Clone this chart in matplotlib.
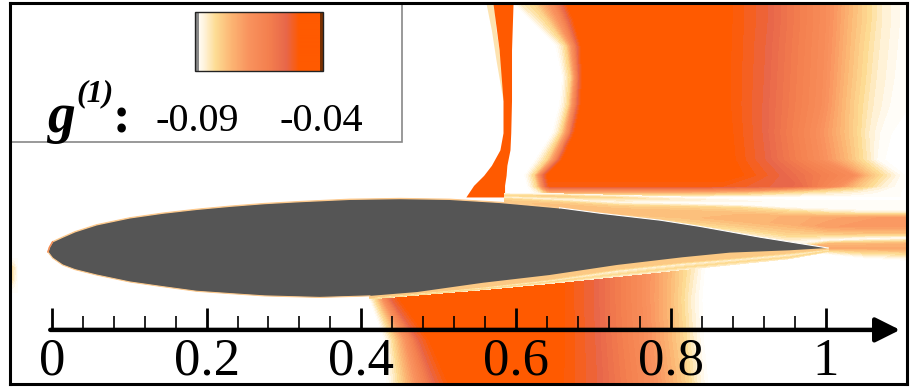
import numpy as np
import matplotlib
matplotlib.use("Agg")
import matplotlib.pyplot as plt
from matplotlib.colors import LinearSegmentedColormap
from matplotlib.patches import Polygon, Rectangle

plt.rcParams['font.family'] = ['Liberation Serif', 'DejaVu Serif']

# g(1) scaled so that 0 is -0.09 and 1 is past -0.04, all lengths in chords
cmap_stops = [(0.0, '#FFFFFF'), (0.06, '#FFF6E4'), (0.17, '#FDDC94'),
              (0.30, '#FCB674'), (0.45, '#F9935E'), (0.62, '#F4804F'),
              (0.77, '#E8674A'), (0.88, '#FF5A00'), (1.0, '#FF5A00')]

# Airfoil outline
upper_x = [-.005, -.003, .001, .014, .030, .058, .101, .143, .187, .230, .275,
           .320, .385, .450, .514, .579, .656, .708, .786, .837, .915, 1.003]
upper_y = [-.005, .001, .008, .014, .021, .030, .039, .045, .050, .054, .0575,
           .060, .063, .064, .063, .059, .052, .045, .036, .028, .014, 0]
lower_x = [-.005, .001, .014, .030, .058, .101, .143, .187, .230, .275, .346,
           .411, .472, .557, .643, .730, .815, .876, .953, 1.003]
lower_y = [-.005, -.013, -.022, -.028, -.035, -.044, -.050, -.056, -.059, -.062,
           -.064, -.062, -.057, -.045, -.035, -.022, -.012, -.006, -.003, 0]

# Supersonic region above the airfoil: contour stations per row
main_y = [.317, .295, .262, .221, .185, .149, .114, .094, .080, .072, .066]
main_fade = [1, 1, 1, 1, 1, 1, 1, 1, .95, .35, 0]
main_levels = [0, .1, .2, .5, .78, .9, .9, .78, .5, .3, .2, .1, .03, 0]
main_x = [
    [.596, .605, .624, .647, .660, .667, .867, .925, 1.000, 1.032, 1.050, 1.070, 1.096, 1.115],
    [.618, .628, .641, .658, .669, .676, .867, .925, 1.000, 1.030, 1.050, 1.070, 1.096, 1.115],
    [.651, .659, .665, .673, .680, .685, .866, .922, .998, 1.028, 1.046, 1.067, 1.093, 1.115],
    [.660, .665, .671, .677, .682, .687, .866, .920, .996, 1.025, 1.043, 1.063, 1.089, 1.115],
    [.656, .663, .668, .674, .680, .685, .866, .918, .994, 1.022, 1.039, 1.059, 1.083, 1.109],
    [.647, .654, .659, .667, .672, .677, .870, .918, .986, 1.020, 1.038, 1.054, 1.070, 1.085],
    [.625, .633, .641, .650, .656, .661, .873, .922, .992, 1.026, 1.041, 1.057, 1.066, 1.076],
    [.611, .618, .624, .630, .636, .641, .882, .940, 1.036, 1.052, 1.066, 1.083, 1.096, 1.102],
    [.615, .621, .627, .633, .638, .643, .857, .966, 1.016, 1.037, 1.054, 1.070, 1.089, 1.102],
    [.620, .625, .630, .636, .641, .646, .824, .889, .953, 1.005, 1.037, 1.063, 1.083, 1.096],
    [.620, .625, .630, .636, .641, .646, .824, .889, .953, 1.005, 1.037, 1.063, 1.083, 1.096],
]

# Shock sliver and its pale fringe
shock_y = [.317, .256, .191, .149, .127, .107, .094, .081, .066]
shock_left = [.570, .578, .583, .583, .579, .568, .558, .545, .535]
shock_right = [.596, .594, .594, .593, .592, .588, .587, .585, .585]
fringe_y = [.317, .282, .243, .191]
fringe_left = [.561, .568, .574, .583]
fringe_right = [.571, .574, .580, .584]

# Streaks over the rear of the airfoil and into the wake
wake_x = [.585, .656, .734, .811, .889, .953, 1.003, 1.050, 1.105]
wake_y = [
    [.071, .070, .068, .066, .063, .062, .062, .061, .061],
    [.068, .067, .065, .063, .061, .058, .057, .056, .054],
    [.066, .063, .059, .058, .056, .053, .052, .050, .049],
    [.063, .059, .054, .053, .052, .049, .047, .045, .045],
    [.059, .056, .050, .048, .044, .040, .039, .039, .039],
    [.057, .052, .045, .041, .036, .031, .028, .028, .028],
    [.054, .048, .040, .036, .028, .018, .018, .019, .019],
    [.052, .044, .036, .028, .019, .006, .010, .012, .013],
    [.049, .041, .032, .021, .010, .001, .005, .005, .005],
    [.047, .039, .028, .013, .004, 0, 0, 0, -.001],
    [.044, .036, .026, .004, 0, -.004, -.004, -.005, -.006],
    [.041, .034, .023, -.003, -.004, -.005, -.008, -.013, -.016],
]
wake_t = [
    [0, .03, .03, 0, 0, 0, 0, 0, 0],
    [.17, .20, .16, .08, .04, .02, 0, 0, 0],
    [.05, .04, .03, 0, 0, 0, 0, 0, 0],
    [.20, .21, .21, .20, .17, .13, .10, .12, .12],
    [.24, .26, .26, .26, .28, .32, .36, .40, .42],
    [.24, .25, .26, .27, .30, .32, .40, .42, .42],
    [.22, .22, .22, .22, .22, .20, .22, .25, .25],
    [.12, .12, .12, .10, .10, .02, 0, 0, 0],
    [.10, .10, .10, .10, .10, .12, .30, .30, .32],
    [.10, .10, .10, .10, .20, .30, .35, .35, .35],
    [.10, .10, .10, .10, .10, .12, .15, .20, .20],
    [0, 0, 0, 0, 0, 0, 0, 0, 0],
]

# Streaks under the airfoil
under_x = [.411, .557, .643, .730, .815, .876, .953, 1.003]
under_y = [
    [-.062, -.044, -.034, -.021, -.011, -.005, -.001, 0],
    [-.064, -.050, -.040, -.027, -.018, -.013, -.006, -.001],
    [-.065, -.052, -.043, -.030, -.021, -.016, -.009, -.003],
    [-.066, -.053, -.044, -.034, -.025, -.019, -.012, -.004],
    [-.066, -.054, -.046, -.037, -.028, -.022, -.014, -.005],
]
under_t = [.22, .22, .06, .16, .08]

# Region under the airfoil
pocket_y = [-.016, -.067, -.119, -.177]
pocket_levels = [0, .1, .2, .5, .78, .9, .9, .78, .5, .3, .2, .1, 0]
pocket_x = [
    [.404, .408, .413, .423, .433, .446, .652, .700, .762, .798, .814, .831, .844],
    [.411, .415, .420, .430, .440, .453, .652, .700, .762, .796, .811, .824, .840],
    [.430, .437, .443, .460, .475, .491, .652, .702, .765, .798, .814, .828, .842],
    [.433, .443, .452, .475, .497, .517, .650, .705, .773, .805, .822, .833, .848],
]

# Faint patch at the left edge
patch_x = [-.054, -.049, -.044]
patch_y = [-.013, -.026, -.041, -.057]
patch_t = [[0, 0, 0], [.20, .10, 0], [.18, .08, 0], [0, 0, 0]]

tick_major = [0, .2, .4, .6, .8, 1]
tick_minor = [.04, .08, .12, .16, .24, .28, .32, .36, .44, .48, .52, .56,
              .64, .68, .72, .76, .84, .88, .92, .96]
tick_labels = ['0', '0.2', '0.4', '0.6', '0.8', '1']
bar_labels = ['-0.09', '-0.04']
bar_label_x = [.188, .348]

cmap = LinearSegmentedColormap.from_list('g1', cmap_stops, N=256)
levels = np.linspace(0, 1, 33)
XLIM = (-.054, 1.105)
YLIM = (-.176, .317)

fig = plt.figure(figsize=(9.24, 3.9), dpi=100)
ax = fig.add_axes([10 / 924, 6 / 390, 897 / 924, 381 / 390])


def field(x, y, t):
    return ax.contourf(x, y, t, levels=levels, cmap=cmap, vmin=0, vmax=1)


# Upper field
mx = np.array(main_x)
my = np.repeat(np.array(main_y)[:, None], mx.shape[1], axis=1)
field(mx, my, np.outer(main_fade, main_levels))
ax.fill_betweenx(fringe_y, fringe_left, fringe_right, color='#FDE3B0', lw=0)
ax.fill_betweenx(shock_y, shock_left, shock_right, color='#FF5A00', lw=0)

# Streaks
wx = np.tile(wake_x, (len(wake_y), 1))
field(wx, np.array(wake_y), np.array(wake_t))

# Lower field, cut off under the streaks
px = np.array(pocket_x)
py = np.repeat(np.array(pocket_y)[:, None], px.shape[1], axis=1)
pocket = field(px, py, np.outer(np.ones(len(pocket_y)), pocket_levels))
clip_xy = list(zip(under_x, under_y[-1])) + [(1.1, -.177), (.3, -.177), (.3, -.066)]
pocket.set_clip_path(Polygon(clip_xy, closed=True, transform=ax.transData))

ux = np.tile(under_x, (len(under_y), 1))
field(ux, np.array(under_y), np.outer(under_t, np.ones(len(under_x))))
field(patch_x, patch_y, np.array(patch_t))

# Airfoil
ax.fill(list(upper_x) + list(lower_x[::-1]), list(upper_y) + list(lower_y[::-1]),
        color='#555555', lw=0, zorder=3)
ax.plot(upper_x[:17], upper_y[:17], color='#FDC98C', lw=1.0, zorder=3)
ax.plot(upper_x[16:], upper_y[16:], color='white', lw=0.8, zorder=3)
ax.plot(lower_x[:12], lower_y[:12], color='#FDC98C', lw=0.8, zorder=3)
ax.plot(upper_x[:3], upper_y[:3], color='#F38B57', lw=1.0, zorder=3)

# Ruler drawn inside the plot
ax.annotate('', xy=(1.096, -.106), xytext=(-.002, -.106), zorder=5,
            arrowprops=dict(arrowstyle='-|>,head_length=1.5,head_width=0.75',
                            color='black', lw=3.2, shrinkA=0, shrinkB=0))
ax.vlines(tick_major, -.106, -.078, color='black', lw=2.0, zorder=5)
ax.vlines(tick_minor, -.106, -.088, color='black', lw=1.2, zorder=5)
for x, s in zip(tick_major, tick_labels):
    ax.text(x, -.147, s, fontsize=38, ha='center', va='center', zorder=6)

# Colour key in the corner
ax.add_patch(Rectangle((-.054, .137), .506, .2, fc='white', ec='#888888', lw=1.2, zorder=4))
bar = np.linspace(0, 1, 128)[None, :]
ax.imshow(bar, extent=(.185, .350, .229, .305), cmap=cmap, vmin=0, vmax=.93,
          aspect='auto', zorder=5)
ax.add_patch(Rectangle((.185, .229), .005, .076, fc='#888888', lw=0, zorder=6))
ax.add_patch(Rectangle((.346, .229), .004, .076, fc='#7A3000', lw=0, zorder=6))
ax.add_patch(Rectangle((.185, .229), .165, .076, fc='none', ec='#222222', lw=1.0, zorder=6))
ax.text(-.006, .150, 'g', fontsize=40, fontweight='bold', fontstyle='italic',
        ha='left', va='baseline', zorder=6)
ax.text(.032, .190, '(1)', fontsize=23, fontweight='bold', fontstyle='italic',
        ha='left', va='baseline', zorder=6)
ax.text(.079, .150, ':', fontsize=38, fontweight='bold', ha='left', va='baseline', zorder=6)
for x, s in zip(bar_label_x, bar_labels):
    ax.text(x, .151, s, fontsize=29, ha='center', va='baseline', zorder=6)

ax.set_xlim(XLIM)
ax.set_ylim(YLIM)
ax.set_xticks([])
ax.set_yticks([])
for spine in ax.spines.values():
    spine.set_linewidth(2.2)
    spine.set_zorder(10)

plt.savefig('out.png', dpi=100)
